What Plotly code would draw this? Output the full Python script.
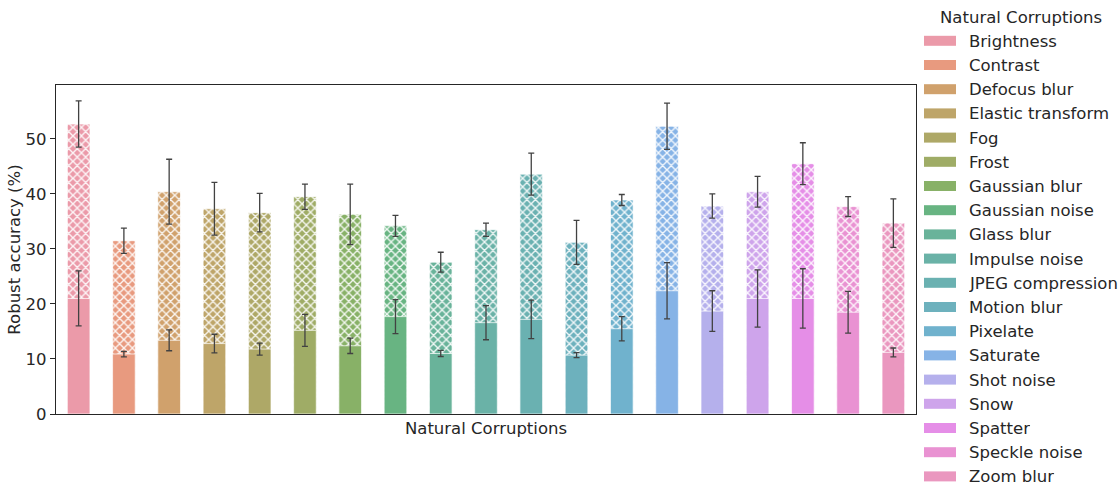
import math
import colorsys
import plotly.graph_objects as go

# ---- data -----------------------------------------------------------------
categories = [
    "Brightness", "Contrast", "Defocus blur", "Elastic transform", "Fog",
    "Frost", "Gaussian blur", "Gaussian noise", "Glass blur", "Impulse noise",
    "JPEG compression", "Motion blur", "Pixelate", "Saturate", "Shot noise",
    "Snow", "Spatter", "Speckle noise", "Zoom blur",
]
# lower (solid) segment and its spread
base_acc = [21.0, 10.9, 13.4, 12.8, 11.8, 15.2, 12.4, 17.7, 11.0, 16.6,
            17.2, 10.7, 15.5, 22.4, 18.7, 21.0, 21.0, 18.5, 11.2]
base_err = [5.0, 0.5, 1.9, 1.7, 1.1, 2.9, 1.4, 3.1, 0.55, 3.1,
            3.5, 0.45, 2.2, 5.1, 3.7, 5.2, 5.4, 3.8, 0.8]
# full (hatched) bar and its spread
total_acc = [52.7, 31.5, 40.4, 37.3, 36.6, 39.5, 36.3, 34.2, 27.6, 33.5,
             43.6, 31.2, 38.9, 52.3, 37.8, 40.4, 45.5, 37.7, 34.7]
total_err = [4.2, 2.3, 5.9, 4.8, 3.5, 2.3, 5.5, 1.9, 1.8, 1.2,
             3.8, 4.0, 1.0, 4.2, 2.2, 2.8, 3.8, 1.8, 4.4]

y_ticks = [0, 10, 20, 30, 40, 50]
legend_title = "Natural Corruptions"
x_title = "Natural Corruptions"
y_title = "Robust accuracy (%)"

# ---- husl palette (seaborn style, desaturated to 0.75) ----------------------
_M = [[3.2406, -1.5372, -0.4986],
      [-0.9689, 1.8758, 0.0415],
      [0.0557, -0.2040, 1.0570]]
_REF_U, _REF_V = 0.19784, 0.46834


def _max_chroma(L, H):
    hrad = math.radians(H)
    sinH, cosH = math.sin(hrad), math.cos(hrad)
    sub1 = (L + 16) ** 3 / 1560896.0
    sub2 = sub1 if sub1 > 0.008856 else L / 903.3
    result = float("inf")
    for m1, m2, m3 in _M:
        top = (0.99915 * m1 + 1.05122 * m2 + 1.14460 * m3) * sub2
        rbottom = 0.86330 * m3 - 0.17266 * m2
        lbottom = 0.12949 * m3 - 0.38848 * m1
        bottom = (rbottom * sinH + lbottom * cosH) * sub2
        for t in (0.0, 1.0):
            C = L * (top - 1.05122 * t) / (bottom + 0.17266 * sinH * t)
            if 0.0 < C < result:
                result = C
    return result


def _from_linear(c):
    return 12.92 * c if c <= 0.0031308 else 1.055 * c ** (1 / 2.4) - 0.055


def husl_to_rgb(H, S, L):
    C = _max_chroma(L, H) / 100.0 * S
    hrad = math.radians(H)
    U, V = math.cos(hrad) * C, math.sin(hrad) * C
    t = (L + 16.0) / 116.0
    Y = t ** 3 if t ** 3 > 0.008856 else (116.0 * t - 16.0) / 903.3
    vu = U / (13.0 * L) + _REF_U
    vv = V / (13.0 * L) + _REF_V
    X = -(9.0 * Y * vu) / ((vu - 4.0) * vv - vu * vv)
    Z = (9.0 * Y - 15.0 * vv * Y - vv * X) / (3.0 * vv)
    rgb = [_from_linear(r[0] * X + r[1] * Y + r[2] * Z) for r in _M]
    return [min(max(c, 0.0), 1.0) for c in rgb]


def husl_palette(n, h=0.01, s=0.9, l=0.65, sat=0.75, alpha=0.8):
    """Desaturated husl colours, flattened onto white at the given alpha."""
    out = []
    for i in range(n):
        hue = ((i / n + h) % 1) * 359
        r, g, b = husl_to_rgb(hue, s * 99, l * 99)
        hh, ll, ss = colorsys.rgb_to_hls(r, g, b)
        r, g, b = colorsys.hls_to_rgb(hh, ll, ss * sat)
        r, g, b = (alpha * c + (1 - alpha) for c in (r, g, b))
        out.append("#%02x%02x%02x" % (round(r * 255), round(g * 255), round(b * 255)))
    return out


colors = husl_palette(len(categories))

TEXT = "#262626"
ERR = "#424242"
FONT = "DejaVu Sans"
FS = 16.5

fig = go.Figure()

# hatched full-height bars
for cat, tot, te, col in zip(categories, total_acc, total_err, colors):
    fig.add_trace(go.Bar(
        x=[cat], y=[tot], width=0.5, showlegend=False,
        marker=dict(color=col,
                    line=dict(color="rgba(255,255,255,0.7)", width=1),
                    pattern=dict(shape="x", fillmode="overlay", fgcolor="white",
                                 fgopacity=0.9, size=6, solidity=0.4)),
        error_y=dict(type="data", array=[te], color=ERR, thickness=1.3, width=3),
    ))

# solid lower bars
for cat, b, be, col in zip(categories, base_acc, base_err, colors):
    fig.add_trace(go.Bar(
        x=[cat], y=[b], width=0.5, showlegend=False,
        marker=dict(color=col, line=dict(color="rgba(255,255,255,0.7)", width=1)),
        error_y=dict(type="data", array=[be], color=ERR, thickness=1.3, width=3),
    ))

# ---- legend drawn at the right of the axes ---------------------------------
PW, PH = 860.0, 329.0   # plot area in px
X0, Y0 = 56.0, 85.0


def px_x(p):
    return (p - X0) / PW


def px_y(p):
    return (Y0 + PH - p) / PH


fig.add_annotation(xref="paper", yref="paper", x=px_x(1021), y=px_y(17),
                   text=legend_title, showarrow=False, xanchor="center",
                   yanchor="middle", font=dict(family=FONT, size=FS, color=TEXT))
for i, (cat, col) in enumerate(zip(categories, colors)):
    yc = 40.8 + i * 24.2
    fig.add_shape(type="rect", xref="paper", yref="paper",
                  x0=px_x(924), x1=px_x(956), y0=px_y(yc - 5), y1=px_y(yc + 5),
                  fillcolor=col, line=dict(width=0))
    fig.add_annotation(xref="paper", yref="paper", x=px_x(968), y=px_y(yc),
                       text=cat, showarrow=False, xanchor="left",
                       yanchor="middle", height=18, borderpad=0,
                       font=dict(family=FONT, size=FS, color=TEXT))

fig.update_layout(
    width=1120, height=486,
    margin=dict(l=56, r=204, t=85, b=72),
    barmode="overlay",
    plot_bgcolor="white", paper_bgcolor="white",
    font=dict(family=FONT, size=FS, color=TEXT),
    xaxis=dict(
        categoryorder="array", categoryarray=categories,
        range=[-0.5, len(categories) - 0.5],
        showticklabels=False, ticks="",
        showline=True, mirror=True, linecolor=TEXT, linewidth=1.2,
        showgrid=False, zeroline=False,
        title=dict(text=x_title, standoff=8, font=dict(size=FS)),
    ),
    yaxis=dict(
        range=[0, 59.8], tickvals=y_ticks, ticktext=[str(v) for v in y_ticks],
        ticks="outside", ticklen=5, tickwidth=1.2, tickcolor=TEXT,
        showline=True, mirror=True, linecolor=TEXT, linewidth=1.2,
        showgrid=False, zeroline=False,
        tickfont=dict(size=FS),
        title=dict(text=y_title, standoff=0, font=dict(size=FS)),
    ),
)

fig.write_html("out.html")
